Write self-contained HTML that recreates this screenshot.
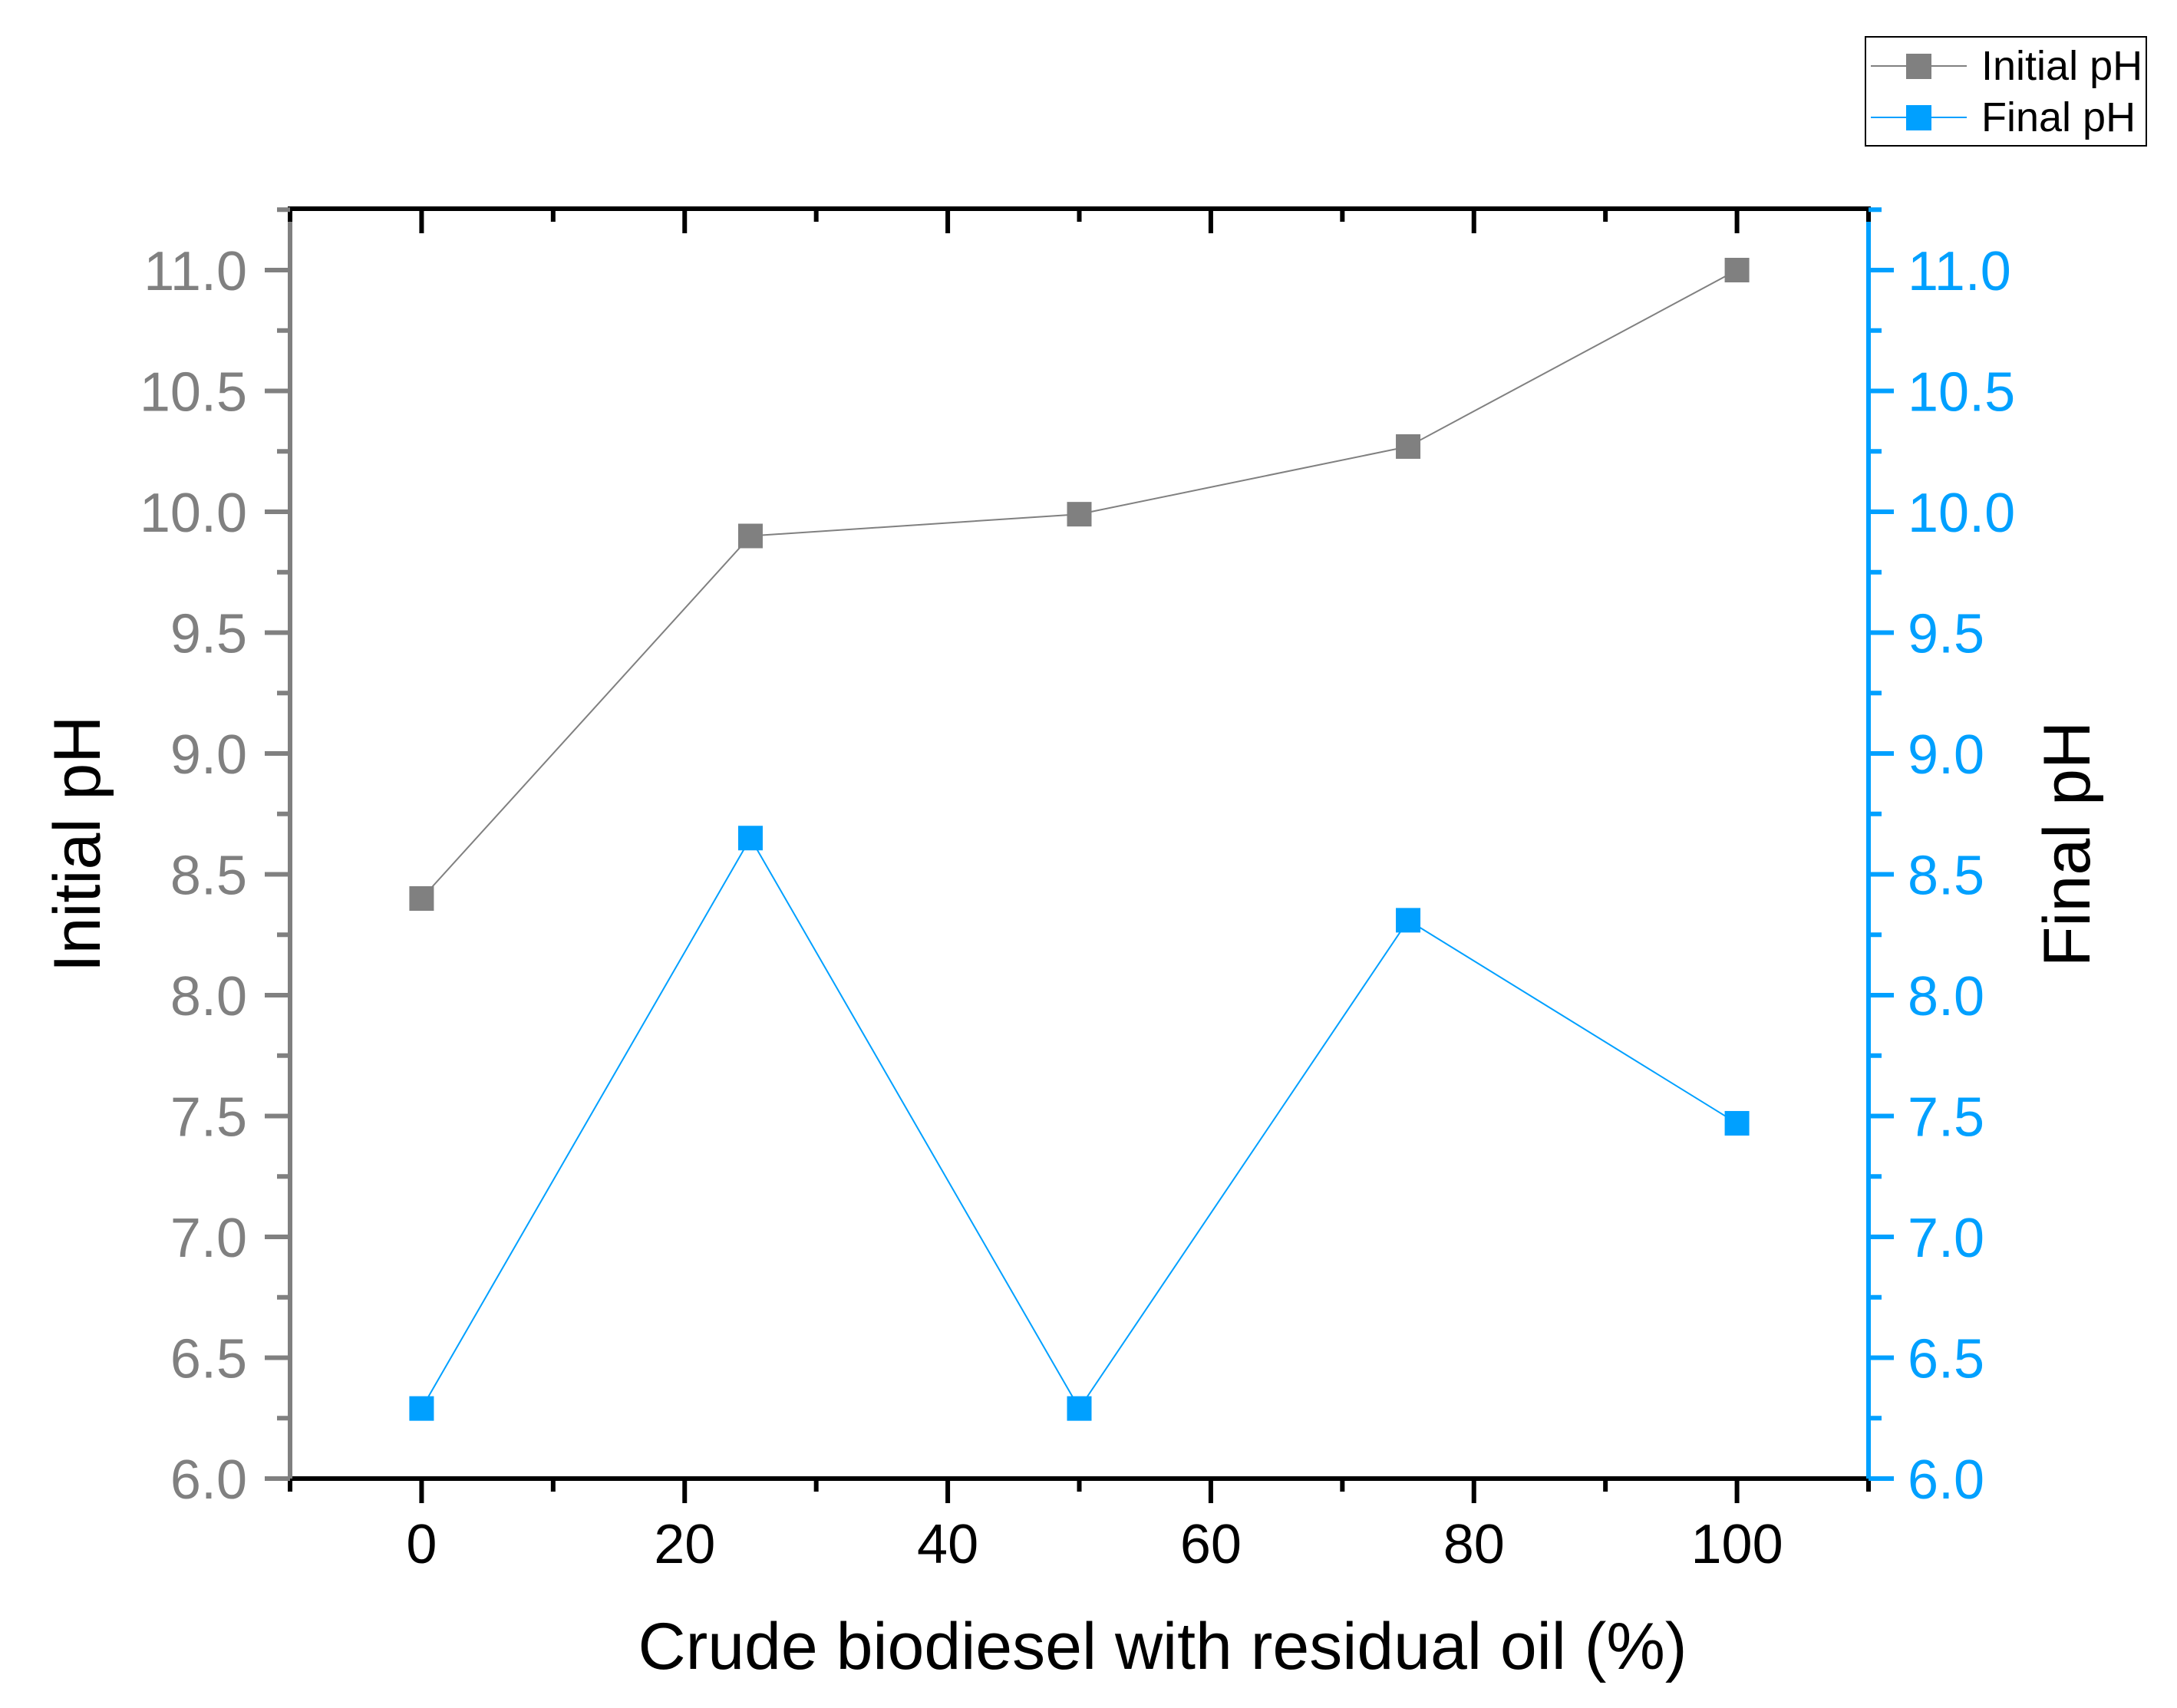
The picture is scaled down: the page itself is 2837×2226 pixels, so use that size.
<!DOCTYPE html>
<html><head><meta charset="utf-8"><style>
html,body{margin:0;padding:0;background:#fff;}
svg{display:block;font-family:"Liberation Sans",Arial,sans-serif;}
</style></head><body>
<svg id="chart" width="2837" height="2226" viewBox="0 0 2837 2226" xmlns="http://www.w3.org/2000/svg">
<rect width="2837" height="2226" fill="#fff"/>
<g id="grid"></g>
<g id="series"></g>
<text x="1515" y="2175" font-size="86" text-anchor="middle" fill="#000">Crude biodiesel with residual oil (%)</text>
<text transform="translate(130,1100) rotate(-90)" font-size="86" text-anchor="middle" fill="#000">Initial pH</text>
<text transform="translate(2723,1100) rotate(-90)" font-size="86" text-anchor="middle" fill="#000">Final pH</text>
<g>
<rect x="2431" y="48" width="366" height="142" fill="#fff" stroke="#000" stroke-width="2"/>
<line x1="2438" y1="86" x2="2563" y2="86" stroke="#808080" stroke-width="2"/>
<rect x="2484" y="70" width="33" height="33" fill="#808080"/>
<text x="2582" y="104" font-size="54" fill="#000">Initial pH</text>
<line x1="2438" y1="153" x2="2563" y2="153" stroke="#00A0FF" stroke-width="2"/>
<rect x="2484" y="137" width="33" height="33" fill="#00A0FF"/>
<text x="2582" y="171" font-size="54" fill="#000">Final pH</text>
</g>
</svg>
<script>
const categories = [0, 25, 50, 75, 100];
const initialPH = [8.4, 9.9, 9.99, 10.27, 11.0];
const finalPH = [6.29, 8.65, 6.29, 8.31, 7.47];
const xTicks = [0, 20, 40, 60, 80, 100];
const yTicks = [6.0, 6.5, 7.0, 7.5, 8.0, 8.5, 9.0, 9.5, 10.0, 10.5, 11.0];

const L = 378, R = 2435, T = 272, B = 1927;
const xMin = -10, xMax = 110, yMin = 6.0, yMax = 11.25;
function xs(v){ return L + (v - xMin) / (xMax - xMin) * (R - L); }
function ys(v){ return B - (v - yMin) * 315; }

const NS = "http://www.w3.org/2000/svg";
const grid = document.getElementById('grid');
const ser = document.getElementById('series');
function mk(tag, attrs, parent){
  const e = document.createElementNS(NS, tag);
  for (const k in attrs) e.setAttribute(k, attrs[k]);
  parent.appendChild(e);
  return e;
}

let a;
a = mk('line', {x1:L-3, y1:T, x2:R+3, y2:T, stroke:'#000', 'stroke-width':6}, grid);


a = mk('line', {x1:L-3, y1:B, x2:R+3, y2:B, stroke:'#000', 'stroke-width':6}, grid);


a = mk('line', {x1:L, y1:T, x2:L, y2:B+3, stroke:'#808080', 'stroke-width':6}, grid);


a = mk('line', {x1:R, y1:T, x2:R, y2:B+3, stroke:'#00A0FF', 'stroke-width':6}, grid);



for (let v = -10; v <= 110; v += 10) {
  const major = (v % 20 === 0);
  const x = xs(v);
  const len = major ? 32 : 17;
  mk('line', {x1:x, y1:B, x2:x, y2:B+len, stroke:'#000', 'stroke-width':6}, grid);
  mk('line', {x1:x, y1:T, x2:x, y2:T+len, stroke:'#000', 'stroke-width':6}, grid);
}
xTicks.forEach(v => {
  const t = mk('text', {x:xs(v), y:2037, 'font-size':72, 'text-anchor':'middle', fill:'#000'}, grid);
  
  
  t.textContent = String(v);
});

for (let i = 0; i <= 21; i++) {
  const v = 6 + i * 0.25;
  const y = ys(v);
  const major = (i % 2 === 0);
  const len = major ? 33 : 17;
  mk('line', {x1:L, y1:y, x2:L-len, y2:y, stroke:'#808080', 'stroke-width':6}, grid);
  mk('line', {x1:R, y1:y, x2:R+len, y2:y, stroke:'#00A0FF', 'stroke-width':6}, grid);
}
yTicks.forEach(v => {
  const y = ys(v) + 26;
  const t1 = mk('text', {x:322, y:y, 'font-size':72, 'text-anchor':'end', fill:'#808080'}, grid);
  
  
  t1.textContent = v.toFixed(1);
  const t2 = mk('text', {x:2486, y:y, 'font-size':72, 'text-anchor':'start', fill:'#00A0FF'}, grid);
  
  
  t2.textContent = v.toFixed(1);
});

function drawSeries(vals, color, name){
  const pts = categories.map((c, i) => xs(c) + ',' + ys(vals[i])).join(' ');
  const pl = mk('polyline', {points:pts, fill:'none', stroke:color, 'stroke-width':2}, ser);
  
  
  categories.forEach((c, i) => {
    const r = mk('rect', {x:xs(c)-16, y:ys(vals[i])-16, width:32, height:32, fill:color}, ser);
    
    
  });
}
drawSeries(initialPH, '#808080', 'initial-ph');
drawSeries(finalPH, '#00A0FF', 'final-ph');
</script>
</body></html>
